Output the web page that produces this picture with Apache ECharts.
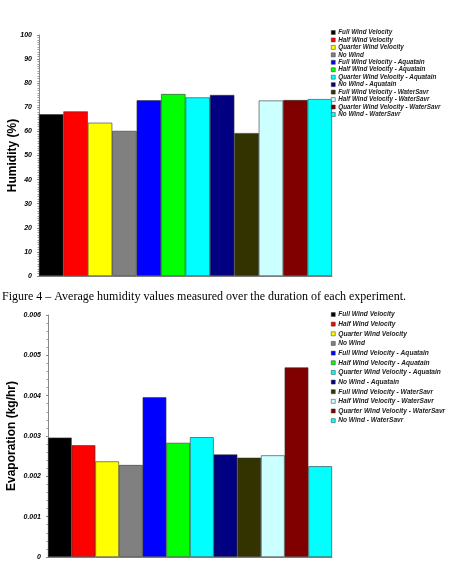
<!DOCTYPE html>
<html>
<head>
<meta charset="utf-8">
<script src="https://cdn.jsdelivr.net/npm/echarts@6/dist/echarts.min.js"></script>
<style>
  html, body { margin: 0; padding: 0; background: #fff; }
  #chart { width: 454px; height: 572px; }
</style>
</head>
<body>
<div id="chart"></div>
<script>
var seriesNames = [
  'Full Wind Velocity', 'Half Wind Velocity', 'Quarter Wind Velocity', 'No Wind',
  'Full Wind Velocity - Aquatain', 'Half Wind Velocity - Aquatain',
  'Quarter Wind Velocity - Aquatain', 'No Wind - Aquatain',
  'Full Wind Velocity - WaterSavr', 'Half Wind Velocity - WaterSavr',
  'Quarter Wind Velocity - WaterSavr', 'No Wind - WaterSavr'
];
var barColors = ['#000000', '#ff0000', '#ffff00', '#808080', '#0000ff', '#00ff00',
  '#00ffff', '#000080', '#333300', '#ccffff', '#800000', '#00ffff'];
var humidity = [67.1, 68.3, 63.6, 60.2, 72.9, 75.5, 74.1, 75.1, 59.3, 72.8, 73.0, 73.4];
var evaporation = [0.00296, 0.00277, 0.00237, 0.00228, 0.00396, 0.00283,
  0.00297, 0.00254, 0.00246, 0.00252, 0.00470, 0.00225];
var caption = 'Figure 4 \u2013 Average humidity values measured over the duration of each experiment.';

var font = 'Arial, "Liberation Sans", sans-serif';
var chart = echarts.init(document.getElementById('chart'));

function yAxis(idx, name, max, interval, minorSplit, gap, fmt) {
  return {
    type: 'value', gridIndex: idx, min: 0, max: max, interval: interval,
    name: name, nameLocation: 'middle', nameGap: gap, nameMoveOverlap: false,
    nameTextStyle: { fontFamily: font, fontSize: 12, fontWeight: 'bold', color: '#000' },
    axisLine: { show: true, lineStyle: { color: '#888', width: 1 } },
    axisTick: { show: true, length: 2, lineStyle: { color: '#888' } },
    minorTick: { show: true, splitNumber: minorSplit, length: 1.5, lineStyle: { color: '#999' } },
    splitLine: { show: false },
    axisLabel: { fontFamily: font, fontSize: 7, fontWeight: 'bold', fontStyle: 'italic',
      color: '#000', margin: 7, formatter: fmt }
  };
}

function xAxis(idx) {
  return {
    type: 'category', gridIndex: idx, data: [''],
    axisLine: { show: true, lineStyle: { color: '#888', width: 1 } },
    axisTick: { show: false }, axisLabel: { show: false }
  };
}

function legend(top, gap, size) {
  return {
    orient: 'vertical', left: 331, top: top, padding: 0, itemGap: gap,
    icon: 'rect', itemWidth: 4, itemHeight: 4,
    itemStyle: { borderColor: '#333', borderWidth: 0.5 },
    textStyle: { fontFamily: font, fontSize: size, fontWeight: 'bold', fontStyle: 'italic',
      color: '#222', lineHeight: 6, padding: [0, 0, 0, -2] },
    selectedMode: false,
    data: seriesNames
  };
}

var series = [];
[humidity, evaporation].forEach(function (vals, g) {
  seriesNames.forEach(function (n, i) {
    series.push({
      name: n, type: 'bar', xAxisIndex: g, yAxisIndex: g,
      barGap: '0%', barCategoryGap: '0%',
      itemStyle: { color: barColors[i], borderColor: '#333', borderWidth: 0.6 },
      data: [vals[i]]
    });
  });
});

chart.setOption({
  animation: false,
  grid: [
    { left: 39, right: 122, top: 35, height: 241, outerBoundsMode: 'none', containLabel: false },
    { left: 48, right: 122, top: 315, height: 242, outerBoundsMode: 'none', containLabel: false }
  ],
  xAxis: [xAxis(0), xAxis(1)],
  yAxis: [
    yAxis(0, 'Humidity (%)', 100, 10, 10, 20),
    yAxis(1, 'Evaporation (kg/hr)', 0.006, 0.001, 5, 30, function (v) {
      return v === 0 ? '0' : v.toFixed(3);
    })
  ],
  legend: [legend(29.5, 1.45, 6.3), legend(311, 2.65, 6.6)],
  graphic: [{
    type: 'text', left: 2, top: 291,
    style: { text: caption, font: '12px "Liberation Serif", "Times New Roman", serif', fill: '#000' }
  }],
  series: series
});
</script>
</body>
</html>
